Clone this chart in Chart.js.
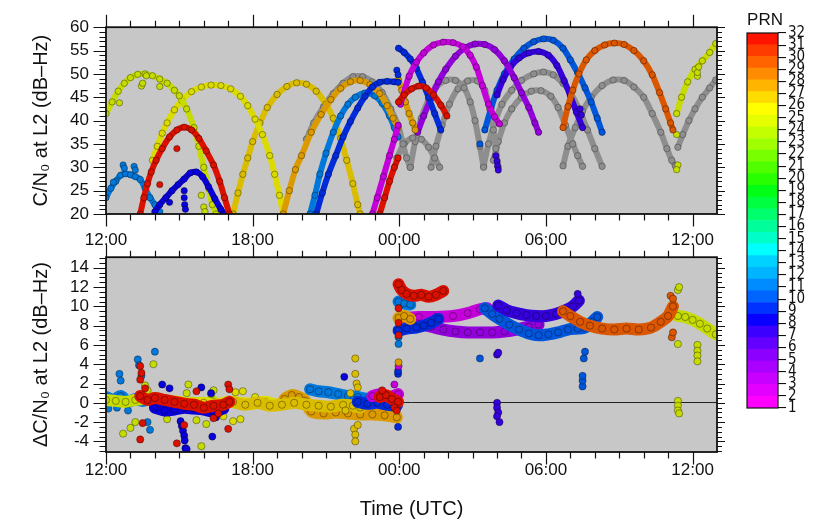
<!DOCTYPE html>
<html>
<head>
<meta charset="utf-8">
<script src="https://cdn.jsdelivr.net/npm/chart.js@4.4.1/dist/chart.umd.min.js"></script>
<style>
  html, body { margin: 0; padding: 0; background: #fff; }
  #wrap { position: relative; width: 833px; height: 523px; overflow: hidden; }
  canvas { position: absolute; }
  #cTop { left: 0; top: 0; }
  #cBot { left: 0; top: 230px; }
  #cBar { left: 740px; top: 20px; }
  #prnTitle { position: absolute; left: 740px; width: 50px; top: 10px; line-height: 20px; text-align: center;
              font: 17px 'Liberation Sans', Arial, sans-serif; color: #111; }
</style>
</head>
<body>
<div id="wrap">
  <canvas id="cTop" width="833" height="250"></canvas>
  <canvas id="cBot" width="833" height="293"></canvas>
  <canvas id="cBar" width="93" height="400"></canvas>
  <div id="prnTitle">PRN</div>
</div>
<script>
// Время в часах от 12:00 первого дня
const timeTickValues = [0, 6, 12, 18, 24];
const timeTickLabels = ['12:00', '18:00', '00:00', '06:00', '12:00'];
const cn0Ticks = [20, 25, 30, 35, 40, 45, 50, 55, 60];
const dcn0Ticks = [-4, -2, 0, 2, 4, 6, 8, 10, 12, 14];
const prnList = [1, 2, 3, 4, 5, 6, 7, 8, 9, 10, 11, 12, 13, 14, 15, 16,
                 17, 18, 19, 20, 21, 22, 23, 24, 25, 26, 27, 28, 29, 30, 31, 32];
const prnColors = ['#ff00ff', '#e400ff', '#c800ff', '#aa00ff', '#8c00ff', '#6400ff', '#3c00ff', '#0a00ff',
                   '#0032ff', '#0064ff', '#008cff', '#00b4ff', '#00d2ff', '#00ffff', '#00ffc8', '#00ff9b',
                   '#00ff6e', '#00ff41', '#00ff14', '#28ff00', '#50ff00', '#78ff00', '#a0ff00', '#c3ff00',
                   '#e6ff00', '#ffff00', '#ffdc00', '#ffb400', '#ff8c00', '#ff6400', '#ff3c00', '#ff1400'];

// ---- C/N0 на L2, [час, дБ-Гц] ----
const cn0_prn25a = [[0,41.5],[0.25,44],[0.5,46.3],[0.75,48],[1.0,49.2],[1.3,49.9],[1.6,50],[1.9,49.6],[2.2,48.9],[2.5,48],[2.8,46.5],[3.0,45.3],[3.3,42.5],[3.6,38.5],[3.8,34.5],[4.0,30],[4.2,25.5],[4.35,22],[4.5,20]];
const cn0_prn25a_out = [[0.55,43.8],[1.45,47.4],[1.5,48],[2.2,47.3],[1.65,49.6],[3.9,24],[4.0,21.5],[4.05,20.5]];
const cn0_prn26a = [[1.9,31.5],[2.1,34.5],[2.3,37.3],[2.5,39.5],[2.8,42.3],[3.1,44.3],[3.5,46.2],[3.9,47.2],[4.3,47.6],[4.7,47.5],[5.1,46.8],[5.5,45.2],[5.8,43.2],[6.1,40.3],[6.4,37],[6.7,32.5],[6.9,28.5],[7.1,24],[7.25,20]];
const cn0_prn27a = [[5.2,20],[5.4,24.5],[5.6,28.5],[5.8,32],[6.0,35.5],[6.3,39.5],[6.6,42.8],[7.0,45.6],[7.4,47.3],[7.8,48.1],[8.2,47.8],[8.6,46.3],[9.0,43.5],[9.3,40.5],[9.6,36.2],[9.85,31.5],[10.1,26.5],[10.3,22],[10.4,20]];
const cn0_prn28a = [[7.25,20],[7.5,25],[7.75,29.5],[8.0,32.5],[8.4,37.5],[8.8,41.3],[9.2,44.5],[9.6,46.9],[10.0,48.3],[10.4,48.6],[10.8,47.7],[11.2,45.8],[11.5,43.2],[11.75,40.5],[11.95,38.5]];
const cn0_prn28b = [[11.97,48.7],[12.1,46.5],[12.25,44],[12.4,41.5],[12.55,39.5],[12.65,38]];
const cn0_prn11a = [[0,23.5],[0.2,25.5],[0.4,27],[0.6,28.3],[0.8,28.6],[1.0,28.4],[1.2,28],[1.4,27.4],[1.6,25.5],[1.8,23.5],[2.0,22],[2.2,20.5]];
const cn0_prn11a_out = [[0.7,30.5],[0.75,29.8],[1.15,30.2],[1.2,29.4],[0.3,26.8]];
const cn0_prn11b = [[8.35,20],[8.55,24],[8.75,28.5],[9.0,33],[9.3,37.5],[9.6,41],[9.9,43.5],[10.2,45],[10.6,45.9],[11.0,45.3],[11.3,43.7],[11.6,41],[11.8,38.5],[11.95,36.5]];
const cn0_prn9a = [[8.6,20],[8.85,24.5],[9.1,28.5],[9.4,32.5],[9.7,36.5],[10.0,39.8],[10.3,42.7],[10.6,45.2],[10.9,47.2],[11.2,48.2],[11.5,48.4],[11.8,48.3],[11.95,48.2]];
const cn0_prn9b = [[11.97,55.5],[12.2,54.6],[12.45,53.2],[12.7,51.2],[12.95,48.2],[13.2,45],[13.45,41.5],[13.7,38]];
const cn0_prn9_out = [[11.9,50.8],[11.95,49.8]];
const cn0_prn8a = [[2.0,20.5],[2.2,22],[2.45,23.5],[2.7,25],[2.95,26.3],[3.2,27.5],[3.45,28.8],[3.7,29],[3.95,28],[4.2,25.8],[4.45,23.3],[4.7,21],[4.85,20]];
const cn0_prn8a_out = [[3.2,25],[3.2,23.5],[3.22,22],[3.25,21],[2.6,22.5]];
const cn0_prn32a = [[1.4,20],[1.55,23.5],[1.7,26.5],[1.85,29],[2.05,31.5],[2.3,34],[2.6,36.5],[2.9,38],[3.2,38.6],[3.5,38],[3.8,36.2],[4.1,33.5],[4.4,30.5],[4.65,27],[4.85,23.5],[5.05,20]];
const cn0_prn32a_out = [[2.9,34],[2.2,26.3]];
const cn0_prn32b = [[11.2,20],[11.4,23.5],[11.6,27],[11.8,30],[11.95,32]];
const cn0_prn32c = [[11.97,44],[12.2,45.5],[12.5,46.8],[12.8,47.4],[13.1,47],[13.4,45.5],[13.7,43.3],[13.95,41]];
const cn0_prn2a = [[10.9,20],[11.1,23.5],[11.35,28],[11.6,32.5],[11.8,36],[11.95,39]];
const cn0_prn2b = [[12.05,43.5],[12.4,49.5],[12.7,52.5],[13.0,54.5],[13.4,56.2],[13.8,56.8],[14.2,56.7],[14.6,55.8],[14.9,54],[15.15,51.5],[15.4,47.5],[15.65,43.5],[15.9,40.8],[16.1,39.3]];
const cn0_prn4 = [[12.75,37.5],[13.0,41],[13.3,44.8],[13.6,48.3],[13.9,51],[14.3,53.8],[14.7,55.6],[15.1,56.4],[15.5,56.3],[15.9,55.2],[16.3,52.8],[16.7,49.2],[17.0,46],[17.3,42.8],[17.55,39.5],[17.7,37.5]];
const cn0_prn10 = [[15.5,38],[15.75,42.5],[16.0,46.5],[16.3,50],[16.7,53.2],[17.1,55.5],[17.5,56.9],[17.9,57.5],[18.3,57.2],[18.7,55.5],[19.0,53],[19.3,50.2],[19.6,47],[19.85,44],[20.1,40.5],[20.3,37.5]];
const cn0_prn10_out = [[15.3,35]];
const cn0_prn7 = [[16.0,45.5],[16.25,48.8],[16.55,51.5],[16.9,53.4],[17.3,54.5],[17.7,54.8],[18.1,54],[18.45,51.8],[18.75,48.5],[19.0,45.3],[19.25,41.8],[19.5,38.5]];
const cn0_prn7_out = [[15.95,32.5],[16.0,31.3],[16.02,30.3],[16.05,29.4],[19.4,42.5],[19.45,41.2]];
const cn0_prn30 = [[18.7,38.5],[18.9,43],[19.1,46.5],[19.35,50],[19.65,53],[20.0,55],[20.4,56.2],[20.8,56.6],[21.2,56.3],[21.6,55],[22.0,52.8],[22.35,49.8],[22.65,46],[22.9,42.5],[23.1,39.5],[23.2,38]];
const cn0_prn25b = [[23.35,41.5],[23.55,45],[23.8,48.3],[24.1,51],[24.4,52.8],[24.7,54.6],[24.95,56.5]];
const cn0_prn25b_out = [[23.35,37],[23.4,30.5],[23.35,29.5],[24.2,49.5],[24.2,50.3],[24.25,51.5]];
// серые дуги (без номера PRN)
const cn0_grayA = [[8.2,36],[8.5,39.5],[8.9,43],[9.3,45.8],[9.7,48],[10.1,49.4],[10.5,49.4],[10.9,48.3],[11.3,46],[11.65,42.5],[11.95,39],[12.15,35],[12.3,32],[12.45,30]];
const cn0_grayB = [[11.9,32],[12.2,35],[12.55,36.3],[12.9,36],[13.2,34.3],[13.45,32],[13.65,30]];
const cn0_grayC = [[12.45,30],[12.65,35.5],[12.9,40.5],[13.2,44.5],[13.5,47.2],[13.9,48.6],[14.3,48.6],[14.65,47],[14.9,44],[15.1,40],[15.3,34.5],[15.45,30]];
const cn0_grayD = [[13.3,30],[13.5,34.5],[13.75,39],[14.05,43.5],[14.4,46.8],[14.8,48.5],[15.2,48.5],[15.5,46.5],[15.7,42.5],[15.85,38],[15.95,34],[16.05,30]];
const cn0_grayE = [[15.45,30.3],[15.65,35],[15.9,39.5],[16.2,43.5],[16.6,46.5],[17.0,48.6],[17.5,50],[17.9,50.4],[18.3,49.8],[18.7,48],[19.0,46],[19.35,42.5],[19.7,38],[20.0,34],[20.3,30.2]];
const cn0_grayF = [[15.85,31.5],[16.05,35.5],[16.3,39.5],[16.6,42.5],[17.0,45],[17.4,46.3],[17.8,46.4],[18.2,45.2],[18.5,42.8],[18.8,39],[19.1,35],[19.3,32.5],[19.5,30.2]];
const cn0_grayG = [[18.7,30.3],[18.9,34.5],[19.2,38.5],[19.5,42],[19.85,45],[20.3,47.5],[20.75,48.7],[21.2,48.6],[21.6,47.2],[22.0,45],[22.35,41.5],[22.7,37.5],[22.95,34],[23.15,31.5],[23.3,30.3]];
const cn0_grayH = [[23.4,34.3],[23.6,37],[23.85,40],[24.1,42.5],[24.4,45],[24.7,47],[24.95,48.7]];

// ---- ΔC/N0 на L2, [час, дБ-Гц] ----
const d_prn11a = [[0,0.6],[0.3,0.3],[0.6,0.7],[0.9,0.1],[1.2,0.4],[1.5,0.2],[1.8,0.5]];
const d_prn11a_out = [[0.55,3.0],[0.6,2.3],[0.1,-0.6],[0.45,-0.5],[1.3,4.5],[1.35,3.9],[1.45,2.8],[2.0,5.3],[1.7,-2.0],[1.8,-2.8],[0.9,-0.8]];
const d_prn11b = [[8.35,1.4],[8.7,1.2],[9.1,1.1],[9.5,0.9],[9.9,0.7],[10.3,0.6],[10.7,0.4],[11.1,0.3]];
const d_prn11c = [[11.97,10.5],[12.2,10.3],[12.45,10.2]];
const d_prn11c_out = [[11.97,6.1],[11.97,6.8]];
const d_prn25a = [[0,0.3],[0.4,0.2],[0.8,0.1],[1.2,0.3],[1.6,0.4],[2.0,0.3],[2.4,0.1],[2.8,0.0],[3.2,-0.2],[3.6,0.0],[4.0,-0.3],[4.4,0.1]];
const d_prn25a_out = [[0.7,-3.2],[1.0,-2.6],[1.2,-2.0],[1.94,4.0],[1.6,1.8],[1.7,1.3],[3.37,1.9],[3.3,1.0],[3.9,-4.5],[3.7,-1.8],[4.1,-2.2],[2.5,-1.7],[4.3,0.9],[4.4,1.3]];
const d_prn26 = [[1.9,0.5],[2.5,0.2],[3.0,0.1],[3.5,-0.1],[4.0,0.0],[4.5,-0.2],[5.0,0.1],[5.5,0.0],[6.0,-0.1],[6.5,0.1],[7.0,-0.2],[7.25,0.0]];
const d_prn26_out = [[5.3,1.1],[5.5,-1.7],[5.6,1.2],[6.1,0.6],[4.8,-1.4],[5.2,-1.9]];
const d_prn27 = [[5.2,0.1],[5.7,-0.2],[6.2,0.0],[6.7,-0.3],[7.2,-0.2],[7.7,0.0],[8.2,-0.2],[8.7,-0.3],[9.2,-0.4],[9.7,-0.2],[10.1,-0.3],[10.4,-0.5]];
const d_prn27_out = [[10.2,4.6],[10.2,3.0],[10.25,2.0],[10.3,1.6],[10.15,-2.7],[10.2,-3.3],[10.2,-4.0],[10.3,-2.3],[9.8,-0.8],[10.0,1.0]];
const d_prn28a = [[7.3,0.4],[7.6,0.8],[7.9,0.6],[8.15,0.2],[8.4,-0.9],[8.9,-1.1],[9.4,-1.0],[9.9,-1.1],[10.4,-1.2],[10.9,-1.2],[11.4,-1.3],[11.9,-1.5]];
const d_prn28b = [[11.97,8.8],[12.2,9.0],[12.45,8.7]];
const d_prn28b_out = [[11.97,4.2]];
const d_prn32a = [[1.4,0.7],[1.7,0.3],[2.0,0.5],[2.4,0.3],[2.8,0.1],[3.2,-0.1],[3.6,-0.2],[4.0,-0.5],[4.4,-0.3],[4.8,-0.2],[5.05,0.1]];
const d_prn32a_out = [[1.4,3.8],[1.45,3.1],[1.4,2.4],[1.5,-2.1],[1.4,-3.8],[1.6,1.5],[2.9,-4.2],[3.2,-2.3],[3.7,1.2],[4.4,-1.6],[5.0,1.9],[5.05,1.4],[5.0,-2.7],[4.6,-1.1]];
const d_prn32b = [[11.2,0.6],[11.45,0.8],[11.7,0.4],[11.95,0.1]];
const d_prn32b_out = [[11.3,1.3],[11.8,-0.5],[11.9,-0.8]];
const d_prn32c = [[11.97,12.3],[12.1,11.7],[12.3,11.3],[12.6,11.1],[12.9,11.2],[13.2,11.0],[13.5,11.2],[13.8,11.6]];
const d_prn32c_out = [[11.97,9.8],[11.97,8.3],[11.97,7.0]];
const d_prn8a = [[2.0,-0.5],[2.4,-0.8],[2.8,-0.7],[3.2,-0.5],[3.6,-0.6],[4.0,-0.7],[4.4,-0.9],[4.8,-0.6]];
const d_prn8a_out = [[2.3,1.9],[2.6,1.5],[3.05,-1.9],[3.1,-2.4],[3.15,-2.9],[3.2,-3.4],[3.22,-3.9],[3.25,-4.7],[3.3,-4.8],[3.9,1.6],[4.3,1.0],[4.35,-3.5],[4.5,-1.5],[9.75,2.7]];
const d_prn9a = [[10.3,0.1],[10.7,-0.1],[11.1,0.0],[11.5,-0.2],[11.9,-0.3]];
const d_prn9a_out = [[11.95,-2.5],[11.95,3.0],[11.95,3.3]];
const d_prn9b = [[11.97,7.5],[12.3,7.7],[12.7,7.8],[13.0,8.0],[13.3,8.3],[13.6,8.7]];
const d_prn2a = [[10.9,0.7],[11.25,0.9],[11.6,0.6],[11.95,0.9]];
const d_prn2a_out = [[11.8,1.9],[11.97,3.8]];
const d_prn2b = [[12.2,8.8],[12.8,8.9],[13.5,8.9],[14.2,9.0],[14.8,9.3],[15.3,9.7],[15.6,9.8]];
const d_prn4 = [[12.8,8.2],[13.3,7.9],[13.8,7.6],[14.3,7.4],[14.8,7.3],[15.3,7.3],[15.8,7.3],[16.3,7.4],[16.8,7.6],[17.3,7.9],[17.7,8.1]];
const d_prn10 = [[15.5,9.8],[15.8,9.2],[16.1,8.7],[16.5,8.1],[16.9,7.6],[17.3,7.2],[17.7,7.0],[18.1,7.1],[18.5,7.3],[18.9,7.6],[19.3,7.7],[19.6,7.8],[19.9,8.4],[20.1,8.9]];
const d_prn10_out = [[15.3,4.6],[19.5,1.7],[19.5,2.3],[19.5,2.8],[19.55,4.6],[19.6,5.3]];
const d_prn7 = [[16.05,10.1],[16.4,9.6],[16.8,9.3],[17.2,9.1],[17.6,9.0],[18.0,9.0],[18.4,9.2],[18.8,9.6],[19.1,10.0],[19.35,10.6]];
const d_prn7_out = [[16.0,5.0],[16.05,5.2],[16.0,0.0],[16.0,-0.5],[16.05,-1.0],[16.0,-1.4],[16.1,-2.0],[19.3,11.3]];
const d_prn30 = [[18.7,9.5],[19.0,9.0],[19.4,8.4],[19.8,8.0],[20.3,7.7],[20.8,7.6],[21.3,7.7],[21.8,7.6],[22.3,7.8],[22.7,8.4],[23.0,9.0],[23.2,10.0]];
const d_prn30_out = [[23.1,11.1],[23.2,10.8],[23.15,6.8],[23.2,7.3]];
const d_prn25b = [[23.4,9.0],[23.7,8.9],[24.0,8.6],[24.3,8.2],[24.6,7.7],[24.95,7.1]];
const d_prn25b_out = [[23.4,11.7],[23.45,12.0],[23.4,6.1],[24.2,6.0],[24.2,5.4],[24.2,4.9],[24.2,4.3],[23.4,0.2],[23.4,-0.3],[23.4,-0.8],[23.45,-1.1]];

// Порядок слоёв: первый элемент рисуется поверх остальных. 0 = серая дуга
const topLayers = [
    [cn0_prn32a_out, 32, 'dots'], [cn0_prn32a, 32], [cn0_prn32b, 32], [cn0_prn32c, 32],
    [cn0_prn2a, 2], [cn0_prn2b, 2],
    [cn0_prn9_out, 9, 'dots'], [cn0_prn9a, 9], [cn0_prn9b, 9],
    [cn0_prn28a, 28], [cn0_prn28b, 28],
    [cn0_prn11b, 11],
    [cn0_prn4, 4],
    [cn0_prn30, 30],
    [cn0_prn7_out, 7, 'dots'], [cn0_prn7, 7],
    [cn0_prn10_out, 10, 'dots'], [cn0_prn10, 10],
    [cn0_prn8a_out, 8, 'dots'], [cn0_prn8a, 8],
    [cn0_prn25a_out, 25, 'dots'], [cn0_prn25a, 25],
    [cn0_prn25b_out, 25, 'dots'], [cn0_prn25b, 25],
    [cn0_prn26a, 26], [cn0_prn27a, 27],
    [cn0_prn11a_out, 11, 'dots'], [cn0_prn11a, 11],
    [cn0_grayA, 0], [cn0_grayB, 0], [cn0_grayC, 0], [cn0_grayD, 0],
    [cn0_grayE, 0], [cn0_grayF, 0], [cn0_grayG, 0], [cn0_grayH, 0]
];
const bottomLayers = [
    [d_prn32a_out, 32, 'dots'], [d_prn32a, 32], [d_prn32b_out, 32, 'dots'], [d_prn32b, 32],
    [d_prn32c_out, 32, 'dots'], [d_prn32c, 32],
    [d_prn11c_out, 11, 'dots'], [d_prn11c, 11],
    [d_prn28b_out, 28, 'dots'], [d_prn28b, 28],
    [d_prn9b, 9],
    [d_prn30_out, 30, 'dots'], [d_prn30, 30],
    [d_prn7_out, 7, 'dots'], [d_prn7, 7],
    [d_prn10_out, 10, 'dots'], [d_prn10, 10],
    [d_prn2b, 2], [d_prn4, 4],
    [d_prn25b_out, 25, 'dots'], [d_prn25b, 25],
    [d_prn2a_out, 2, 'dots'], [d_prn2a, 2],
    [d_prn9a_out, 9, 'dots'], [d_prn9a, 9],
    [d_prn8a_out, 8, 'dots'], [d_prn8a, 8],
    [d_prn27_out, 27, 'dots'], [d_prn27, 27],
    [d_prn28a, 28],
    [d_prn26_out, 26, 'dots'], [d_prn26, 26],
    [d_prn11b, 11],
    [d_prn25a_out, 25, 'dots'], [d_prn25a, 25],
    [d_prn11a_out, 11, 'dots'], [d_prn11a, 11]
];

const FONT = "'Liberation Sans', Arial, Helvetica, sans-serif";
const NARROW = "'Liberation Sans Narrow', 'DejaVu Sans Condensed', 'Liberation Sans', sans-serif";
const INK = '#111';

function shade(hex, f) {
    const n = parseInt(hex.slice(1), 16);
    const r = Math.round(((n >> 16) & 255) * f);
    const g = Math.round(((n >> 8) & 255) * f);
    const b = Math.round((n & 255) * f);
    return `rgb(${r},${g},${b})`;
}

function colorFor(prn) {
    return prn === 0 ? '#8e8e8e' : shade(prnColors[prn - 1], 0.86);
}

function buildDatasets(layers, lineWidth, radius) {
    return layers.map(([pts, prn, kind]) => {
        const color = colorFor(prn);
        const isDots = kind === 'dots';
        return {
            data: pts.map(p => ({ x: p[0], y: p[1] })),
            showLine: !isDots,
            borderColor: color,
            borderWidth: lineWidth,
            borderCapStyle: 'round',
            borderJoinStyle: 'round',
            tension: 0.3,
            pointRadius: radius,
            pointBackgroundColor: color,
            pointBorderColor: prn === 0 ? 'rgba(60,60,60,0.6)' : 'rgba(0,0,0,0.45)',
            pointBorderWidth: 0.8,
            clip: 0
        };
    });
}

// Серый фон, рамка и внешние засечки панели
const panelFrame = {
    id: 'panelFrame',
    beforeDraw(chart) {
        const { ctx, chartArea: a } = chart;
        ctx.save();
        ctx.fillStyle = '#c7c7c7';
        ctx.fillRect(a.left, a.top, a.width, a.height);
        ctx.restore();
    },
    afterDraw(chart, args, opts) {
        const { ctx, chartArea: a, scales } = chart;
        ctx.save();
        ctx.strokeStyle = INK;
        ctx.lineWidth = 1.2;
        ctx.beginPath();
        for (let h = 0; h <= 24; h++) {
            const x = Math.round(scales.x.getPixelForValue(h)) + 0.5;
            const len = h % 6 === 0 ? 12.5 : 6.5;
            ctx.moveTo(x, a.top); ctx.lineTo(x, a.top - len);
            ctx.moveTo(x, a.bottom); ctx.lineTo(x, a.bottom + len);
        }
        const y = scales.y;
        const start = Math.ceil(y.min / opts.minorStep) * opts.minorStep;
        for (let v = start; v <= y.max + 1e-9; v += opts.minorStep) {
            const py = Math.round(y.getPixelForValue(v)) + 0.5;
            const r = v / opts.majorStep;
            const major = Math.abs(r - Math.round(r)) < 1e-6;
            ctx.moveTo(a.left, py); ctx.lineTo(a.left - (major ? 12.5 : 6.5), py);
            ctx.moveTo(a.right, py); ctx.lineTo(a.right + (major ? 8 : 5), py);
        }
        ctx.stroke();
        ctx.lineWidth = 1.8;
        ctx.strokeRect(a.left, a.top, a.width, a.height);
        ctx.restore();
    }
};

const barOutline = {
    id: 'barOutline',
    afterDraw(chart) {
        const { ctx, chartArea: a } = chart;
        ctx.save();
        ctx.strokeStyle = INK;
        ctx.lineWidth = 1.2;
        ctx.strokeRect(a.left, a.top, a.width, a.height);
        ctx.restore();
    }
};

function timeAxis(height, padding, title) {
    return {
        type: 'linear', min: 0, max: 25,
        afterFit: s => { s.height = height; },
        afterBuildTicks: s => { s.ticks = timeTickValues.map(v => ({ value: v })); },
        grid: { display: false, drawTicks: false },
        border: { display: false },
        ticks: {
            padding: padding, color: INK, maxRotation: 0, autoSkip: false,
            font: { family: FONT, size: 17 },
            callback: v => timeTickLabels[timeTickValues.indexOf(v)]
        },
        title: title
    };
}

function valueAxis(min, max, ticks, text, zeroLine) {
    return {
        type: 'linear', min: min, max: max,
        afterFit: s => { s.width = 106; },
        afterBuildTicks: s => { s.ticks = ticks.map(v => ({ value: v })); },
        grid: {
            display: zeroLine, drawTicks: false, lineWidth: 1,
            color: ctx => (ctx.tick && ctx.tick.value === 0) ? '#222' : 'rgba(0,0,0,0)'
        },
        border: { display: false },
        ticks: { padding: 17, color: INK, autoSkip: false, font: { family: FONT, size: 17 } },
        title: { display: true, text: text, color: INK, font: { family: FONT, size: 20 }, padding: { top: 29, bottom: 0 } }
    };
}

new Chart(document.getElementById('cTop'), {
    type: 'scatter',
    data: { datasets: buildDatasets(topLayers, 6, 3.2) },
    options: {
        responsive: false, animation: false, events: [],
        layout: { padding: { top: 16, right: 116, bottom: 0, left: 0 } },
        plugins: { legend: { display: false }, tooltip: { enabled: false }, panelFrame: { minorStep: 1, majorStep: 5 } },
        scales: {
            x: timeAxis(36, 16, { display: false }),
            y: valueAxis(20, 60, cn0Ticks, 'C/N₀ at L2 (dB–Hz)', false)
        }
    },
    plugins: [panelFrame]
});

new Chart(document.getElementById('cBot'), {
    type: 'scatter',
    data: { datasets: buildDatasets(bottomLayers, 12, 3.6) },
    options: {
        responsive: false, animation: false, events: [],
        layout: { padding: { top: 23, right: 116, bottom: 0, left: 0 } },
        plugins: { legend: { display: false }, tooltip: { enabled: false }, panelFrame: { minorStep: 0.5, majorStep: 2 } },
        scales: {
            x: timeAxis(71, 8, { display: true, text: 'Time (UTC)', color: INK, font: { family: FONT, size: 20 }, padding: { top: 0, bottom: 1.6 } }),
            y: valueAxis(-5.1, 15.1, dcn0Ticks, 'ΔC/N₀ at L2 (dB–Hz)', true)
        }
    },
    plugins: [panelFrame]
});

// Цветовая шкала PRN
new Chart(document.getElementById('cBar'), {
    type: 'bar',
    data: {
        labels: [''],
        datasets: prnList.map((p, i) => ({
            data: [[p - 1, p]],
            backgroundColor: prnColors[i],
            borderWidth: 0,
            barPercentage: 1,
            categoryPercentage: 1,
            grouped: false,
            yAxisID: 'yc'
        }))
    },
    options: {
        responsive: false, animation: false, events: [],
        layout: { padding: { top: 13, bottom: 12, left: 7, right: 0 } },
        plugins: { legend: { display: false }, tooltip: { enabled: false } },
        scales: {
            x: { display: false },
            yc: { display: false, min: 0, max: 32 },
            y: {
                position: 'right', min: 1, max: 32,
                afterFit: s => { s.width = 55; },
                afterBuildTicks: s => { s.ticks = prnList.map(v => ({ value: v })); },
                grid: { drawOnChartArea: false, drawTicks: true, tickLength: 8, color: INK, lineWidth: 1.1 },
                border: { display: false },
                ticks: { padding: 2, autoSkip: false, color: INK, font: { family: NARROW, size: 15 } }
            }
        }
    },
    plugins: [barOutline]
});
</script>
</body>
</html>
